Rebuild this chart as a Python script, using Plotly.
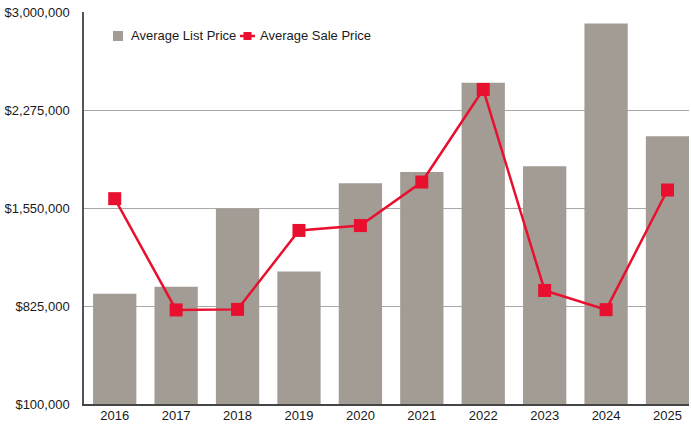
import plotly.graph_objects as go

years = ["2016", "2017", "2018", "2019", "2020", "2021", "2022", "2023", "2024", "2025"]
avg_list_price = [915000, 968000, 1545000, 1080000, 1733000, 1816000, 2476000, 1858000, 2915000, 2080000]
avg_sale_price = [1619000, 796000, 800000, 1384000, 1420000, 1742000, 2427000, 940000, 798000, 1683000]
y_ticks = [100000, 825000, 1550000, 2275000, 3000000]
y_tick_text = ["$100,000", "$825,000", "$1,550,000", "$2,275,000", "$3,000,000"]

bar_color = "#A39C95"
line_color = "#E8102E"
text_color = "#1a1a1a"
font_family = "Liberation Sans, Arial, Helvetica, sans-serif"

W, H = 691, 428
M_L, M_R, M_T, M_B = 84, 2, 12, 24
PLOT_W = W - M_L - M_R
PLOT_H = H - M_T - M_B


def px_x(x):
    """Pixel column -> paper fraction of the plot area."""
    return (x - M_L) / PLOT_W


def px_y(y):
    """Pixel row -> paper fraction of the plot area."""
    return 1 - (y - M_T) / PLOT_H


fig = go.Figure()
fig.add_trace(go.Bar(
    x=list(range(len(years))), y=avg_list_price, name="Average List Price",
    marker=dict(color=bar_color, line=dict(width=0)),
))
fig.add_trace(go.Scatter(
    x=list(range(len(years))), y=avg_sale_price, name="Average Sale Price",
    mode="lines+markers",
    line=dict(color=line_color, width=2.5),
    marker=dict(symbol="square", size=13, color=line_color),
))

# Compact legend row drawn inside the plot area
legend_y = 36
shapes = [
    dict(type="rect", xref="paper", yref="paper",
         x0=px_x(113), x1=px_x(123), y0=px_y(41), y1=px_y(31),
         fillcolor=bar_color, line=dict(width=0)),
    dict(type="line", xref="paper", yref="paper",
         x0=px_x(240), x1=px_x(255), y0=px_y(legend_y), y1=px_y(legend_y),
         line=dict(color=line_color, width=2.5)),
    dict(type="rect", xref="paper", yref="paper",
         x0=px_x(243.5), x1=px_x(251.5), y0=px_y(40), y1=px_y(32),
         fillcolor=line_color, line=dict(width=0)),
]
annotations = [
    dict(text="Average List Price", xref="paper", yref="paper",
         x=px_x(129), y=px_y(legend_y), xanchor="left", yanchor="middle",
         showarrow=False, font=dict(size=13, color=text_color)),
    dict(text="Average Sale Price", xref="paper", yref="paper",
         x=px_x(258), y=px_y(legend_y), xanchor="left", yanchor="middle",
         showarrow=False, font=dict(size=13, color=text_color)),
]

fig.update_layout(
    width=W, height=H,
    margin=dict(l=M_L, r=M_R, t=M_T, b=M_B),
    paper_bgcolor="white", plot_bgcolor="white",
    font=dict(family=font_family, size=13, color=text_color),
    bargap=0.295,
    showlegend=False,
    shapes=shapes,
    annotations=annotations,
    xaxis=dict(
        range=[-0.5, 9.35],
        tickvals=list(range(len(years))), ticktext=years,
        showgrid=False, showline=True, linecolor="#444444", linewidth=1.5,
        ticks="", ticklabelstandoff=-1, tickfont=dict(size=13, color=text_color),
    ),
    yaxis=dict(
        range=[100000, 3000000], tickvals=y_ticks, ticktext=y_tick_text,
        showgrid=True, gridcolor="#A8A8A8", gridwidth=1,
        showline=True, linecolor="#555555", linewidth=1.5,
        ticks="", ticklabelstandoff=10, zeroline=False,
        tickfont=dict(size=13, color=text_color),
    ),
)

fig.write_html("out.html")
